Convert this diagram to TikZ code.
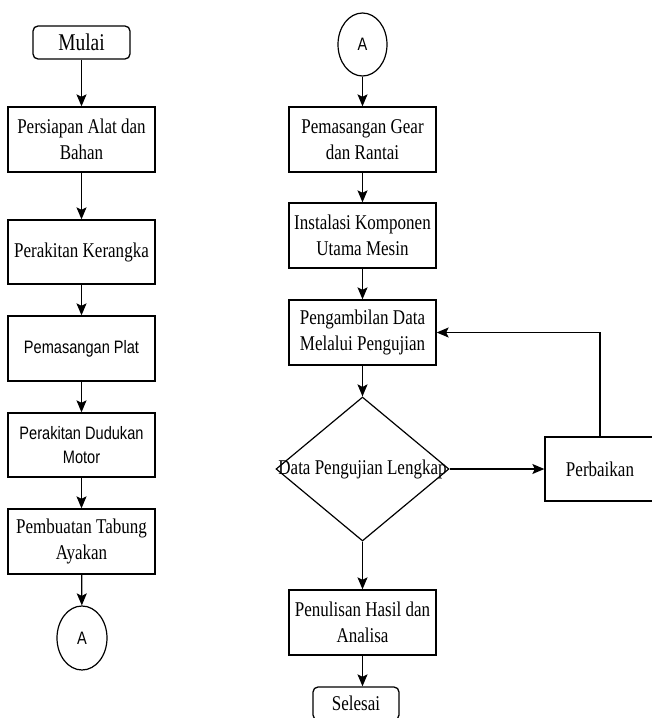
\documentclass[tikz,border=0pt]{standalone}
\usepackage{fontspec}
\setmainfont[FakeStretch=0.81]{Liberation Serif}
\newfontfamily\sansf[FakeStretch=0.81]{Liberation Sans}
\usetikzlibrary{shapes.geometric,arrows.meta}
\begin{document}
\begin{tikzpicture}[x=1pt,y=-1pt,
  every node/.style={inner sep=0pt, align=center},
  box/.style={draw, line width=1.3pt, minimum width=147pt, font=\fontsize{21}{26}\selectfont},
  sbox/.style={box, font=\sansf\fontsize{18}{24}\selectfont},
  term/.style={draw, line width=1.3pt, rounded corners=5pt, minimum height=33pt},
  conn/.style={draw, ellipse, line width=1.2pt, font=\sansf\fontsize{18}{22}\selectfont},
  arr/.style={line width=1.3pt, -{Stealth[length=12pt,width=10pt,inset=2.5pt]}}]
\useasboundingbox (0,0) rectangle (652,718);
\clip (0,0) rectangle (652,718);
% left column
\node[term, minimum width=97pt, font=\fontsize{24}{28}\selectfont] (mulai) at (81.5,42.5) {Mulai};
\node[box, minimum height=65pt] (p1) at (81.5,139.5) {Persiapan Alat dan\\Bahan};
\node[box, minimum height=64pt] (p2) at (81.5,252) {Perakitan Kerangka};
\node[sbox, minimum height=65pt] (p3) at (81.5,348.5) {Pemasangan Plat};
\node[sbox, minimum height=64pt] (p4) at (81.5,445) {Perakitan Dudukan\\Motor};
\node[box, minimum height=65pt] (p5) at (81.5,541.5) {Pembuatan Tabung\\Ayakan};
\node[conn, minimum width=50pt, minimum height=64pt] (aL) at (82,638) {A};
% right column
\node[conn, minimum width=49pt, minimum height=63pt] (aR) at (362.5,44.5) {A};
\node[box, minimum height=65pt] (q1) at (362.5,139.5) {Pemasangan Gear\\dan Rantai};
\node[box, minimum height=65pt] (q2) at (362.5,235.5) {Instalasi Komponen\\Utama Mesin};
\node[box, minimum height=65pt] (q3) at (362.5,332.5) {Pengambilan Data\\Melalui Pengujian};
\node[draw, diamond, line width=1.2pt, minimum width=173pt, minimum height=144pt] (dec) at (362.5,469) {};
\node[font=\fontsize{21}{26}\selectfont] (dect) at (dec.center) {Data Pengujian Lengkap};
\node[box, minimum width=110pt, minimum height=64pt] (fix) at (600,469) {Perbaikan};
\node[box, minimum height=65pt] (q4) at (362.5,622.5) {Penulisan Hasil dan\\Analisa};
\node[term, minimum width=86pt, font=\fontsize{21}{26}\selectfont] (sel) at (356,703.5) {Selesai};
% connectors
\draw[arr] (mulai) -- (p1);
\draw[arr] (p1) -- (p2);
\draw[arr] (p2) -- (p3);
\draw[arr] (p3) -- (p4);
\draw[arr] (p4) -- (p5);
\draw[arr] (p5) -- (aL);
\draw[arr] (aR) -- (q1);
\draw[arr] (q1) -- (q2);
\draw[arr] (q2) -- (q3);
\draw[arr] (q3) -- (dec.north);
\draw[arr] (dec.east) -- (fix.west);
\draw[arr] (fix.north) |- (q3.east);
\draw[arr] (dec.south) -- (q4.north);
\draw[arr] (q4.south) -- (q4.south |- sel.north);
\end{tikzpicture}
\end{document}
